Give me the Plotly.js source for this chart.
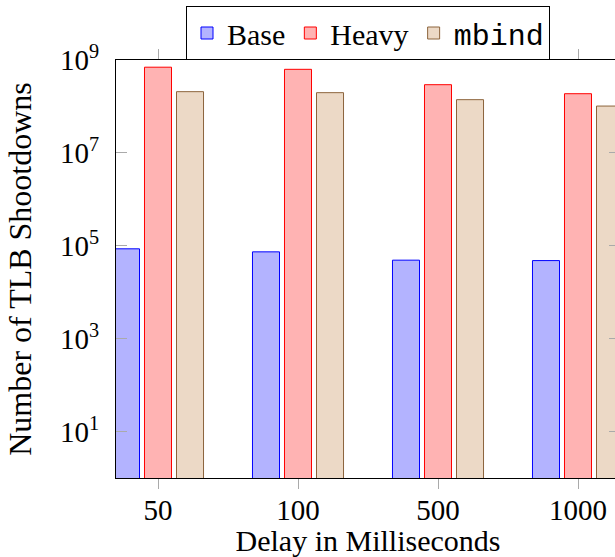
<!DOCTYPE html>
<html>
<head>
<meta charset="utf-8">
<script src="https://cdn.plot.ly/plotly-3.0.1.min.js"></script>
<style>
html, body { margin: 0; padding: 0; overflow: hidden; background: #fff; }
#chart { width: 640px; height: 557px; }
</style>
</head>
<body>
<div id="chart"></div>
<script>
const categories = ['50', '100', '500', '1000'];
const seriesNames = ['Base', 'Heavy', 'mbind'];
const baseValues = [8.6e4, 7.4e4, 4.9e4, 4.8e4];
const heavyValues = [7.0e8, 6.3e8, 2.94e8, 1.88e8];
const mbindValues = [2.08e8, 1.98e8, 1.4e8, 1.02e8];
const yTickVals = [1e1, 1e3, 1e5, 1e7, 1e9];
const yTickText = ['10<sup>1</sup>', '10<sup>3</sup>', '10<sup>5</sup>', '10<sup>7</sup>', '10<sup>9</sup>'];

const serif = 'Liberation Serif, Times New Roman, serif';
const mono = 'Liberation Mono, DejaVu Sans Mono, monospace';
const withFont = (txt, fam) => '<span style="font-family:' + fam + '">' + txt + '</span>';

const traces = [
  { type: 'bar', name: seriesNames[0], x: categories, y: baseValues,
    marker: { color: 'rgb(179,179,255)', line: { color: 'rgb(0,0,255)', width: 1 } } },
  { type: 'bar', name: seriesNames[1], x: categories, y: heavyValues,
    marker: { color: 'rgb(255,179,179)', line: { color: 'rgb(255,0,0)', width: 1 } } },
  { type: 'bar', name: withFont(seriesNames[2], mono), x: categories, y: mbindValues,
    marker: { color: 'rgb(236,217,198)', line: { color: 'rgb(140,100,60)', width: 1 } } }
];

const layout = {
  width: 640, height: 557,
  margin: { l: 116, r: 20, t: 60, b: 79, autoexpand: false },
  paper_bgcolor: '#fff', plot_bgcolor: '#fff',
  font: { family: serif, size: 29, color: '#000' },
  barmode: 'group', bargap: 0.314, bargroupgap: 0.156,
  showlegend: true,
  legend: {
    orientation: 'h', x: 0.5, xanchor: 'center', y: 1, yanchor: 'bottom',
    bordercolor: '#000', borderwidth: 1, bgcolor: '#fff',
    font: { family: serif, size: 30, color: '#000' }, itemwidth: 30,
    traceorder: 'normal'
  },
  xaxis: {
    type: 'category', range: [-0.3, 3.3], automargin: false,
    showline: true, linecolor: '#000', linewidth: 1, mirror: 'ticks',
    ticks: 'outside', ticklen: 10, tickcolor: '#aaa', tickwidth: 1,
    showgrid: false, zeroline: false, ticklabelstandoff: -4,
    tickfont: { family: serif, size: 29 },
    title: { text: 'Delay in Milliseconds', font: { family: serif, size: 30 }, standoff: 0 }
  },
  yaxis: {
    type: 'log', range: [0, 9], automargin: false,
    showline: true, linecolor: '#000', linewidth: 1, mirror: 'ticks',
    ticks: 'inside', ticklen: 11, tickcolor: '#aaa', tickwidth: 1,
    tickvals: yTickVals, ticktext: yTickText,
    showgrid: false, zeroline: false, ticklabelstandoff: 10,
    tickfont: { family: serif, size: 29 },
    title: { text: 'Number of TLB Shootdowns', font: { family: serif, size: 32 }, standoff: 18 }
  }
};

Plotly.newPlot('chart', traces, layout, { displayModeBar: false, staticPlot: true });
</script>
</body>
</html>
